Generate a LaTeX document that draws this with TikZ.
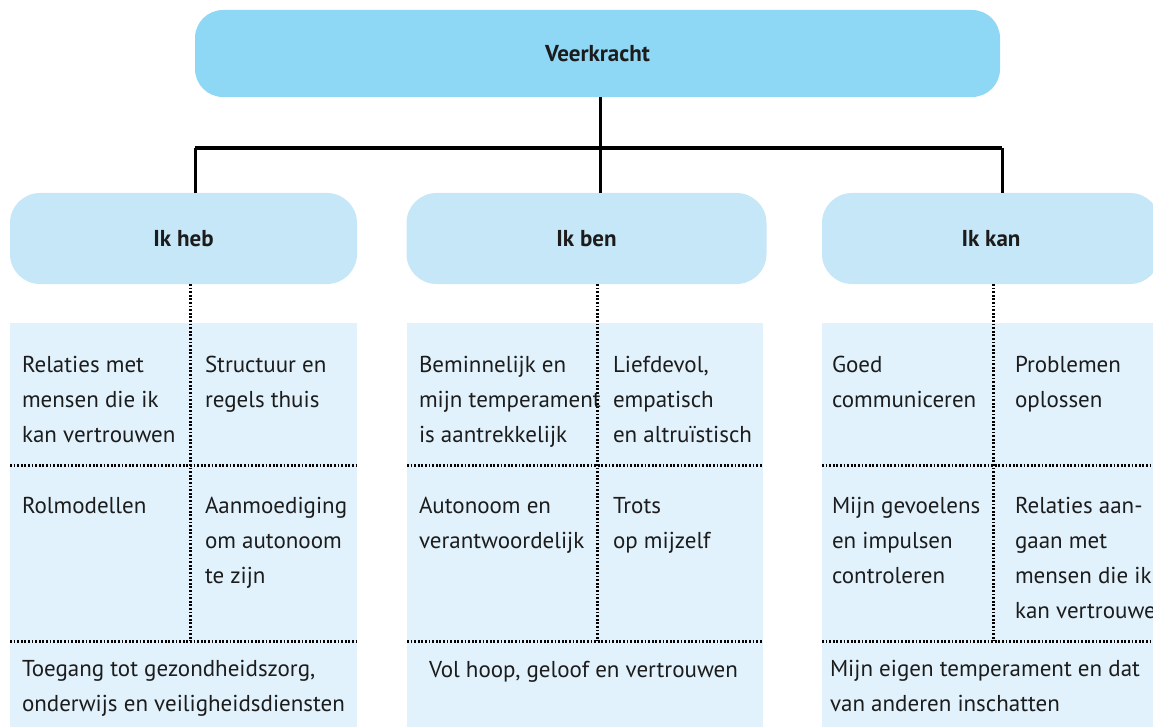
\documentclass[tikz,border=0pt]{standalone}
\usepackage{fontspec}
\setmainfont{PT Sans}
\definecolor{topblue}{HTML}{8ED7F5}
\definecolor{midblue}{HTML}{C6E7F7}
\definecolor{panelblue}{HTML}{E1F2FC}
\definecolor{ink}{HTML}{1C1C1C}
\begin{document}
\begin{tikzpicture}[x=1pt,y=-1pt,
  every node/.style={inner sep=0pt, outer sep=0pt, text=ink},
  headbox/.style={fill=topblue, rounded corners=28pt, minimum height=87pt,
    font=\fontsize{23}{28}\selectfont\bfseries},
  subbox/.style={fill=midblue, rounded corners=30pt, minimum height=91pt,
    font=\fontsize{23}{28}\selectfont\bfseries},
  panel/.style={fill=panelblue},
  % anchored at the baseline of the last line; lines are 35pt apart
  cell/.style={anchor=base west, align=left, font=\fontsize{23}{35}\selectfont},
  stem/.style={line width=3pt, draw=black},
  crossbar/.style={line width=4pt, draw=black},
  dots/.style={line width=3pt, draw=black, dash pattern=on 1.8pt off 1.8pt}
]
\useasboundingbox (0,0) rectangle (1153,727);
\clip (0,0) rectangle (1153,727);

% heading boxes
\node[headbox, minimum width=805pt] (top) at (597.5,53.5) {Veerkracht};
\node[subbox, minimum width=347pt] (heb) at (183.5,238.5) {Ik heb};
\node[subbox, minimum width=360pt] (ben) at (586.5,238.5) {Ik ben};
\node[subbox, minimum width=338pt] (kan) at (991,238.5) {Ik kan};

% tree connectors
\coordinate (bar) at (600,148);
\draw[stem] (top.south -| bar) -- (ben.north -| bar);
\draw[stem] (top.south west |- bar) -- (heb.north -| top.south west);
\draw[stem] ([xshift=2pt]top.south east |- bar) -- ([xshift=2pt]kan.north -| top.south east);
\draw[crossbar] (top.south west |- bar) -- ([xshift=2pt]top.south east |- bar);

% panels
\fill[panel] (10,323) rectangle (357,730);
\fill[panel] (407,323) rectangle (763,730);
\fill[panel] (822,323) rectangle (1160,730);

% dotted dividers
\coordinate (hebend) at (190,641);
\coordinate (benend) at (597,641);
\coordinate (kanend) at (993,641);
\draw[dots] (heb.south -| hebend) -- (hebend);
\draw[dots] (ben.south -| benend) -- (benend);
\draw[dots] (kan.south -| kanend) -- (kanend);
\foreach \y in {465,641}{
  \draw[dots] (10,\y) -- (357,\y);
  \draw[dots] (407,\y) -- (763,\y);
  \draw[dots] (822,\y) -- (1160,\y);
}

% Ik heb
\node[cell] (h1) at (22,442) {Relaties met\\mensen die ik\\kan vertrouwen};
\node[cell] (h2) at (205,407) {Structuur en\\regels thuis};
\node[cell] (h3) at (22,513) {Rolmodellen};
\node[cell] (h4) at (205,583) {Aanmoediging\\om autonoom\\te zijn};
\node[cell] (h5) at (22,711) {Toegang tot gezondheidszorg,\\onderwijs en veiligheidsdiensten};

% Ik ben
\node[cell] (b1) at (419,442) {Beminnelijk en\\mijn temperament\\is aantrekkelijk};
\node[cell] (b2) at (613,442) {Liefdevol,\\empatisch\\en altruïstisch};
\node[cell] (b3) at (419,548) {Autonoom en\\verantwoordelijk};
\node[cell] (b4) at (613,548) {Trots\\op mijzelf};
\node[cell] (b5) at (429,677) {Vol hoop, geloof en vertrouwen};

% Ik kan
\node[cell] (k1) at (832,407) {Goed\\communiceren};
\node[cell] (k2) at (1015,407) {Problemen\\oplossen};
\node[cell] (k3) at (832,583) {Mijn gevoelens\\en impulsen\\controleren};
\node[cell] (k4) at (1015,618) {Relaties aan-\\gaan met\\mensen die ik\\kan vertrouwen};
\node[cell] (k5) at (830,711) {Mijn eigen temperament en dat\\van anderen inschatten};
\end{tikzpicture}
\end{document}
